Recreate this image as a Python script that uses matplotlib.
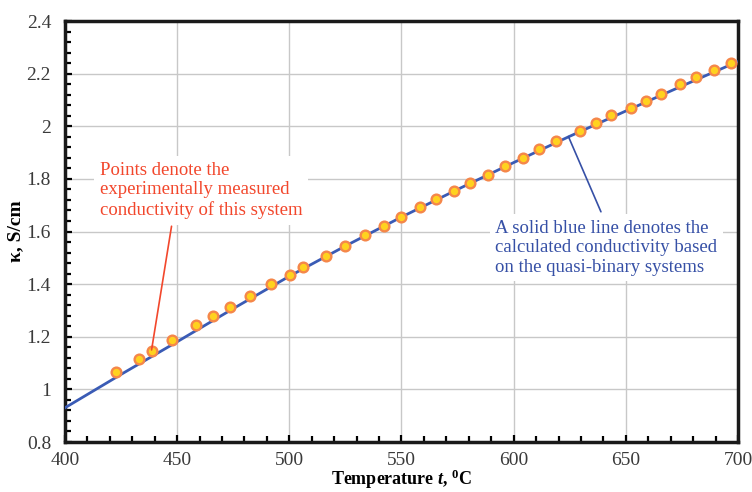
import matplotlib
matplotlib.use('Agg')
import matplotlib.pyplot as plt
from matplotlib.ticker import MultipleLocator

plt.rcParams['font.family'] = ['Liberation Serif', 'DejaVu Serif']
plt.rcParams['mathtext.fontset'] = 'custom'
plt.rcParams['mathtext.rm'] = 'Liberation Serif:bold'
plt.rcParams['mathtext.it'] = 'Liberation Serif:italic:bold'

# measured conductivity (points)
temp_exp = [422.6, 432.8, 438.6, 447.6, 458.4, 466.0, 473.6, 482.6, 492.0, 500.1,
            506.0, 516.2, 525.0, 533.6, 542.0, 549.7, 558.3, 565.6, 573.4, 580.5,
            588.4, 596.1, 604.1, 611.5, 618.9, 629.7, 636.7, 643.4, 652.2, 659.0,
            665.7, 674.3, 681.1, 689.1, 696.8]
kappa_exp = [1.067, 1.116, 1.147, 1.189, 1.244, 1.279, 1.313, 1.355, 1.401, 1.434,
             1.465, 1.506, 1.546, 1.586, 1.621, 1.657, 1.695, 1.725, 1.753, 1.786,
             1.816, 1.849, 1.881, 1.914, 1.944, 1.982, 2.012, 2.041, 2.069, 2.095,
             2.124, 2.162, 2.188, 2.214, 2.242]

# calculated conductivity (blue line)
temp_calc = [400, 425, 450, 475, 500, 525, 550, 575, 600, 625, 650, 675, 700]
kappa_calc = [0.930, 1.057, 1.181, 1.307, 1.430, 1.545, 1.655, 1.760, 1.862,
              1.962, 2.058, 2.153, 2.246]

red = '#f2472c'
blue = '#3650a6'

fig = plt.figure(figsize=(7.52, 4.92), dpi=100)
ax = fig.add_axes([0.0864, 0.1016, 0.895, 0.8557])

ax.plot(temp_calc, kappa_calc, color='#3a5bb5', lw=2, zorder=3)
ax.plot(temp_exp, kappa_exp, 'o', ms=7, mfc='#ffd21f', mec='#f5874a', mew=1.7, zorder=4)

ax.set_xlim(400, 700)
ax.set_ylim(0.8, 2.4)
ax.xaxis.set_major_locator(MultipleLocator(50))
ax.xaxis.set_minor_locator(MultipleLocator(10))
ax.yaxis.set_major_locator(MultipleLocator(0.2))
ax.yaxis.set_minor_locator(MultipleLocator(0.04))
ax.set_yticks([0.8, 1.0, 1.2, 1.4, 1.6, 1.8, 2.0, 2.2, 2.4])
ax.set_yticklabels(['0.8', '1', '1.2', '1.4', '1.6', '1.8', '2', '2.2', '2.4'])

ax.tick_params(which='both', direction='in', top=False, right=False, width=1.6,
               labelsize=14, labelcolor='#3a3a3a')
ax.tick_params(which='major', length=5)
ax.tick_params(which='minor', length=4)
ax.tick_params(axis='y', pad=10)
ax.tick_params(axis='x', pad=7)
ax.grid(True, which='major', color='#c8c8c8', lw=1)
ax.set_axisbelow(True)
for s in ax.spines.values():
    s.set_linewidth(2.5)
    s.set_color('#1a1a1a')

ax.set_xlabel('Temperature $t$, $^{0}$C', fontsize=13, fontweight='bold', labelpad=-1)
ax.set_ylabel('κ, S/cm', fontsize=14, fontweight='bold', labelpad=2)

# annotations
ax.text(415.6, 1.865, 'Points denote the\nexperimentally measured\nconductivity of this system',
        color=red, fontsize=13.5, ha='left', va='top', zorder=6,
        bbox=dict(facecolor='white', edgecolor='none', pad=4))
ax.annotate('', xy=(438.6, 1.15), xytext=(447.5, 1.62),
            arrowprops=dict(arrowstyle='-', color=red, lw=1.2, shrinkA=0, shrinkB=0), zorder=5)

ax.text(591.8, 1.645, 'A solid blue line denotes the\ncalculated conductivity based\non the quasi-binary systems',
        color=blue, fontsize=13.5, ha='left', va='top', zorder=6,
        bbox=dict(facecolor='white', edgecolor='none', pad=4))
ax.annotate('', xy=(624.4, 1.961), xytext=(638.9, 1.675),
            arrowprops=dict(arrowstyle='-', color=blue, lw=1.2, shrinkA=0, shrinkB=0), zorder=5)

fig.savefig('out.png', dpi=100)
